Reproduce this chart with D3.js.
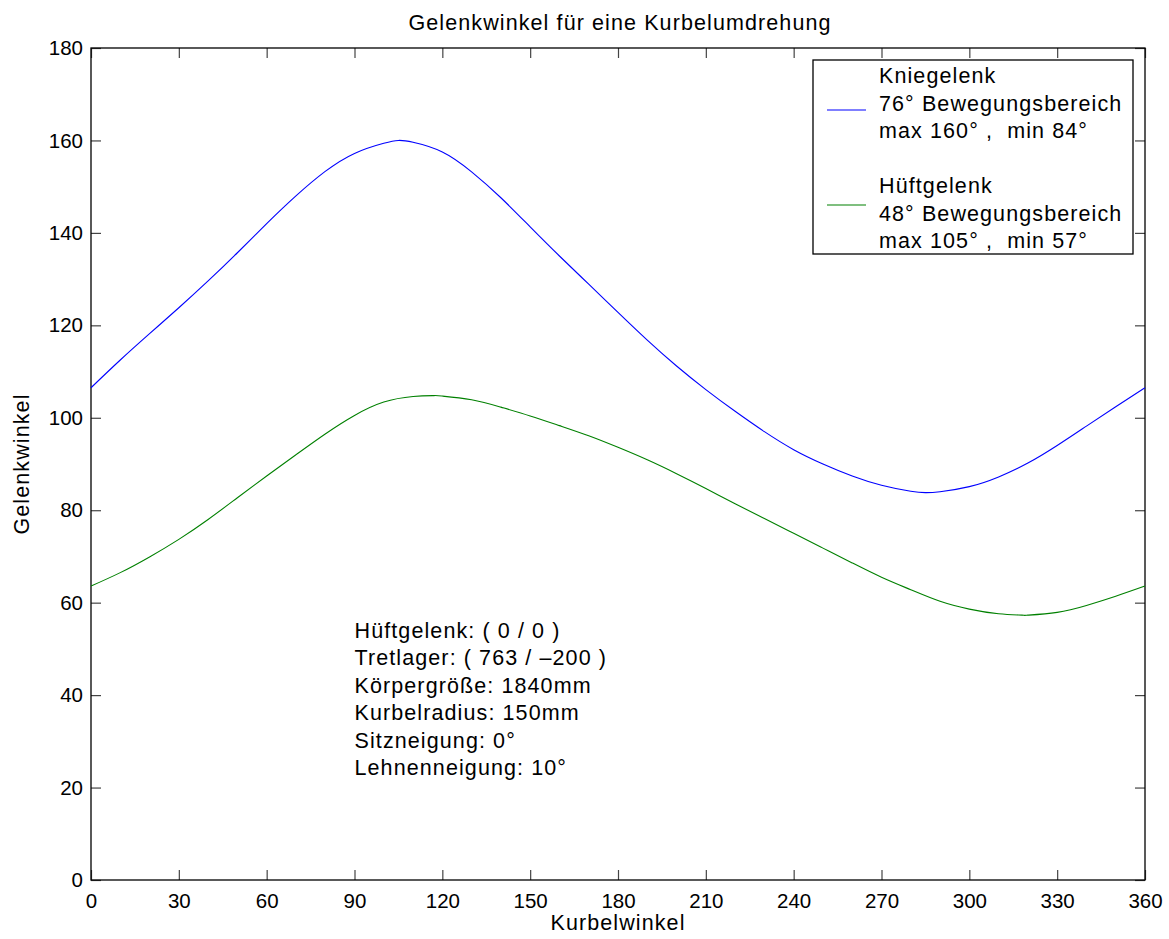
<!DOCTYPE html>
<html>
<head>
<meta charset="utf-8">
<script src="https://cdn.jsdelivr.net/npm/d3@7"></script>
<style>
  body { margin: 0; background: #fff; }
  svg text { font-family: "Liberation Sans", Arial, sans-serif; fill: #000; white-space: pre; }
</style>
</head>
<body>
<div id="chart"></div>
<script>
// Chart texts
const TITLE = 'Gelenkwinkel für eine Kurbelumdrehung';
const X_AXIS_LABEL = 'Kurbelwinkel';
const Y_AXIS_LABEL = 'Gelenkwinkel';

// Tick values
const X_TICKS = [0, 30, 60, 90, 120, 150, 180, 210, 240, 270, 300, 330, 360];
const Y_TICKS = [0, 20, 40, 60, 80, 100, 120, 140, 160, 180];

// Crank angle (deg) and joint angles
const knieAngles = [0, 10, 20, 30, 40, 50, 60, 70, 80, 90, 100, 105, 110, 120, 130, 140, 150, 160, 170, 180,
                    190, 200, 210, 220, 230, 240, 250, 260, 270, 280, 285, 290, 300, 310, 320, 330, 340, 350, 360];
const knieValues = [106.5, 112.5, 118.2, 123.8, 129.6, 135.7, 142.0, 148.0, 153.3, 157.2, 159.4, 160.0, 159.6, 157.5,
                    153.2, 147.6, 141.3, 135.0, 128.9, 122.8, 116.8, 111.2, 106.1, 101.4, 97.0, 93.1, 90.0, 87.4,
                    85.4, 84.1, 83.8, 84.0, 85.1, 87.2, 90.2, 94.0, 98.2, 102.4, 106.5];

const hueftAngles = [0, 10, 20, 30, 40, 50, 60, 70, 80, 90, 100, 110, 117, 120, 130, 140, 150, 160, 170, 180,
                     190, 200, 210, 220, 230, 240, 250, 260, 270, 280, 290, 300, 310, 318, 320, 330, 340, 350, 360];
const hueftValues = [63.6, 66.5, 69.9, 73.7, 78.0, 82.7, 87.4, 92.0, 96.5, 100.5, 103.4, 104.6, 104.8, 104.7, 103.9,
                     102.3, 100.4, 98.3, 96.1, 93.6, 90.9, 87.9, 84.7, 81.4, 78.2, 75.0, 71.8, 68.6, 65.5, 62.8,
                     60.3, 58.6, 57.6, 57.3, 57.3, 57.9, 59.4, 61.4, 63.6];

// Legend entries (multi-line labels)
const LEGEND = [
  {color: '#0000ff', lines: ['Kniegelenk', '76° Bewegungsbereich', 'max 160° ,  min 84°']},
  {color: '#008000', lines: ['Hüftgelenk', '48° Bewegungsbereich', 'max 105° ,  min 57°']}
];

// Annotation block
const INFO_LINES = ['Hüftgelenk: ( 0 / 0 )', 'Tretlager: ( 763 / \u2013200 )', 'Körpergröße: 1840mm',
                    'Kurbelradius: 150mm', 'Sitzneigung: 0°', 'Lehnenneigung: 10°'];
const INFO_POS = [90, 52.4];

// Layout
const OUTER_WIDTH = 1169, OUTER_HEIGHT = 939;
const MARGIN = {top: 48, right: 24, bottom: 59, left: 91};
const FONT_SIZE = 21.5;
const TICK_FONT_SIZE = 20.5;
const LETTER_SPACING = 1.1;
const LINE_HEIGHT = 27.5;
const TICK_LEN = 10;
const LEGEND_LINE_Y = [50, 145];

const width = OUTER_WIDTH - MARGIN.left - MARGIN.right;
const height = OUTER_HEIGHT - MARGIN.top - MARGIN.bottom;

const svg = d3.select('#chart').append('svg')
  .attr('width', OUTER_WIDTH)
  .attr('height', OUTER_HEIGHT);

const g = svg.append('g')
  .attr('transform', `translate(${MARGIN.left}, ${MARGIN.top})`);

const xScale = d3.scaleLinear().domain([0, 360]).range([0, width]);
const yScale = d3.scaleLinear().domain([0, 180]).range([height, 0]);

// Plain text style shared by all labels except ticks
function textStyle(sel) {
  sel.style('font-size', FONT_SIZE + 'px')
     .style('letter-spacing', LETTER_SPACING + 'px');
}

// Axes, ticks pointing inwards on all four sides
function styleAxis(sel, showLabels) {
  sel.select('.domain').remove();
  sel.selectAll('.tick line').attr('stroke', '#444').attr('stroke-width', 1.2);
  sel.selectAll('.tick text').style('font-size', TICK_FONT_SIZE + 'px');
  if (!showLabels) sel.selectAll('.tick text').remove();
}

g.append('g')
  .attr('transform', `translate(0, ${height})`)
  .call(d3.axisBottom(xScale).tickValues(X_TICKS).tickSizeInner(-TICK_LEN).tickSizeOuter(0).tickPadding(13))
  .call(s => styleAxis(s, true));

g.append('g')
  .call(d3.axisTop(xScale).tickValues(X_TICKS).tickSizeInner(-TICK_LEN).tickSizeOuter(0))
  .call(s => styleAxis(s, false));

g.append('g')
  .call(d3.axisLeft(yScale).tickValues(Y_TICKS).tickSizeInner(-TICK_LEN).tickSizeOuter(0).tickPadding(8))
  .call(s => styleAxis(s, true));

g.append('g')
  .attr('transform', `translate(${width}, 0)`)
  .call(d3.axisRight(yScale).tickValues(Y_TICKS).tickSizeInner(-TICK_LEN).tickSizeOuter(0))
  .call(s => styleAxis(s, false));

// Frame
g.append('rect')
  .attr('width', width)
  .attr('height', height)
  .attr('fill', 'none')
  .attr('stroke', '#000')
  .attr('stroke-width', 1.3);

// Curves
const line = d3.line()
  .x(d => xScale(d[0]))
  .y(d => yScale(d[1]))
  .curve(d3.curveNatural);

const series = [
  {angles: knieAngles, values: knieValues, color: LEGEND[0].color},
  {angles: hueftAngles, values: hueftValues, color: LEGEND[1].color}
];

series.forEach(s => {
  g.append('path')
    .datum(d3.zip(s.angles, s.values))
    .attr('fill', 'none')
    .attr('stroke', s.color)
    .attr('stroke-width', 1.1)
    .attr('d', line);
});

// Info text block
const info = g.append('text')
  .attr('transform', `translate(${xScale(INFO_POS[0])}, ${yScale(INFO_POS[1])})`)
  .call(textStyle);

info.selectAll('tspan')
  .data(INFO_LINES)
  .enter()
  .append('tspan')
  .attr('x', 0)
  .attr('dy', (d, i) => i === 0 ? 0 : LINE_HEIGHT)
  .text(d => d);

// Legend
const legend = svg.append('g').attr('transform', 'translate(813, 60)');

legend.append('rect')
  .attr('width', 320)
  .attr('height', 194)
  .attr('fill', '#fff')
  .attr('stroke', '#000')
  .attr('stroke-width', 1.3);

LEGEND.forEach((entry, i) => {
  const top = 23 + i * 110;

  legend.append('line')
    .attr('x1', 14).attr('x2', 53)
    .attr('y1', LEGEND_LINE_Y[i]).attr('y2', LEGEND_LINE_Y[i])
    .attr('stroke', entry.color)
    .attr('stroke-width', 1.1);

  legend.append('text')
    .attr('transform', `translate(66, ${top})`)
    .call(textStyle)
    .selectAll('tspan')
    .data(entry.lines)
    .enter()
    .append('tspan')
    .attr('x', 0)
    .attr('dy', (d, j) => j === 0 ? 0 : LINE_HEIGHT)
    .text(d => d);
});

// Title and axis labels
svg.append('text')
  .attr('x', 620)
  .attr('y', 30)
  .attr('text-anchor', 'middle')
  .call(textStyle)
  .text(TITLE);

svg.append('text')
  .attr('x', MARGIN.left + width / 2)
  .attr('y', 930)
  .attr('text-anchor', 'middle')
  .call(textStyle)
  .text(X_AXIS_LABEL);

svg.append('text')
  .attr('transform', `translate(29, ${MARGIN.top + height / 2})rotate(-90)`)
  .attr('text-anchor', 'middle')
  .call(textStyle)
  .text(Y_AXIS_LABEL);
</script>
</body>
</html>
